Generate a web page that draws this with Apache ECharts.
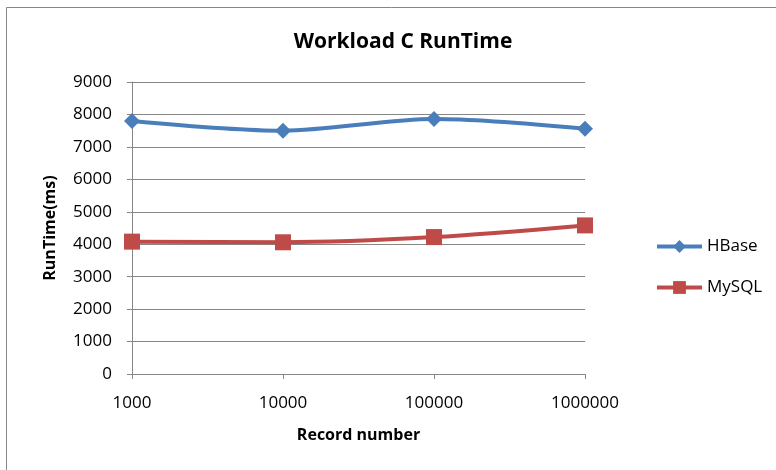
<!DOCTYPE html>
<html>
<head>
<meta charset="utf-8">
<script src="https://cdn.jsdelivr.net/npm/echarts@6/dist/echarts.min.js"></script>
<style>
  html, body { margin: 0; padding: 0; background: #fff; }
  #chart { width: 776px; height: 470px; }
</style>
</head>
<body>
<div id="chart"></div>
<script>
// record counts on the x axis
const recordNumbers = ['1000', '10000', '100000', '1000000'];
// run time in ms
const hbaseTimes = [7800, 7500, 7860, 7560];
const mysqlTimes = [4080, 4060, 4220, 4580];

const myChart = echarts.init(document.getElementById('chart'));

const axisGray = '#868686';
const font = 'Open Sans';

const option = {
  backgroundColor: '#fff',
  animation: false,
  title: {
    text: 'Workload C RunTime',
    left: 398,
    top: 27,
    textAlign: 'center',
    textStyle: { fontFamily: font, fontSize: 21, fontWeight: 'bold', color: '#000' }
  },
  graphic: [
    {
      type: 'rect',
      shape: { x: 6.5, y: 7.5, width: 800, height: 500 },
      style: { fill: 'none', stroke: axisGray, lineWidth: 1 }
    }
  ],
  legend: {
    orient: 'vertical',
    left: 655,
    top: 238,
    padding: 0,
    itemWidth: 45,
    itemHeight: 16,
    itemGap: 24,
    lineStyle: { width: 4 },
    textStyle: { fontFamily: font, fontSize: 17, color: '#000' },
    data: ['HBase', 'MySQL']
  },
  grid: { left: 132, right: 191, top: 82, bottom: 96 },
  xAxis: {
    type: 'category',
    boundaryGap: false,
    data: recordNumbers,
    name: 'Record number',
    nameLocation: 'middle',
    nameGap: 53,
    nameTextStyle: { fontFamily: font, fontSize: 16, fontWeight: 'bold', color: '#000' },
    axisLine: { lineStyle: { color: axisGray, width: 1 } },
    axisTick: { show: true, length: 5, alignWithLabel: true, lineStyle: { color: axisGray } },
    axisLabel: { margin: 21, fontFamily: font, fontSize: 17, color: '#000' }
  },
  yAxis: {
    type: 'value',
    min: 0,
    max: 9000,
    interval: 1000,
    name: 'RunTime(ms)',
    nameLocation: 'middle',
    nameGap: 74,
    nameTextStyle: { fontFamily: font, fontSize: 16, fontWeight: 'bold', color: '#000' },
    axisLine: { show: true, lineStyle: { color: axisGray, width: 1 } },
    axisTick: { show: true, length: 5, lineStyle: { color: axisGray } },
    axisLabel: { margin: 20, fontFamily: font, fontSize: 17, color: '#000', formatter: v => String(v) },
    splitLine: { lineStyle: { color: axisGray, width: 1 } }
  },
  series: [
    {
      name: 'HBase',
      type: 'line',
      data: hbaseTimes,
      smooth: 0.3,
      symbol: 'diamond',
      symbolSize: 16,
      lineStyle: { width: 4, color: '#4A7EBB' },
      itemStyle: { color: '#4A7EBB' }
    },
    {
      name: 'MySQL',
      type: 'line',
      data: mysqlTimes,
      smooth: 0.3,
      symbol: 'rect',
      symbolSize: 16,
      lineStyle: { width: 4, color: '#BE4B48' },
      itemStyle: { color: '#BE4B48' }
    }
  ]
};

myChart.setOption(option);
</script>
</body>
</html>
